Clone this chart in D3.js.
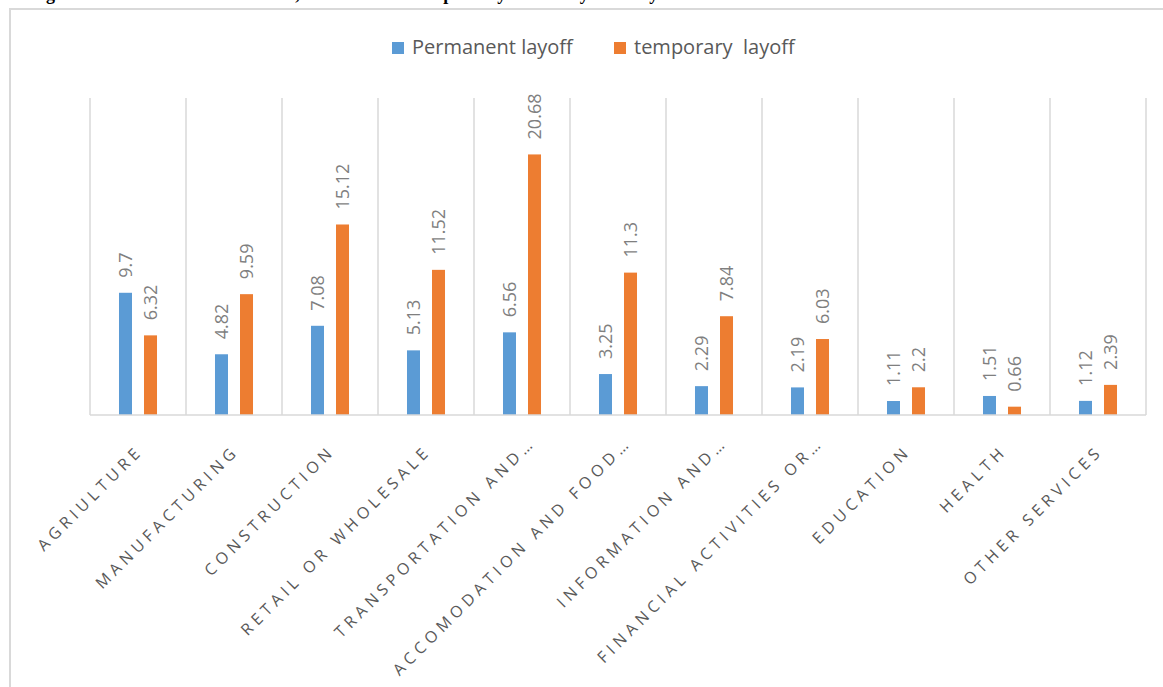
<!DOCTYPE html>
<html lang="en">
<head>
    <meta charset="UTF-8">
    <title>Permanent and temporary layoffs by industry</title>
    <script src="https://d3js.org/d3.v7.min.js"></script>
    <style>
        body { margin: 0; background: #fff; }
        text { font-family: "Open Sans", sans-serif; }
    </style>
</head>
<body>
    <div id="chart"></div>

    <script>
        const width = 1163;
        const height = 687;

        // Data
        const categories = [
            "AGRIULTURE", "MANUFACTURING", "CONSTRUCTION", "RETAIL OR WHOLESALE",
            "TRANSPORTATION AND…", "ACCOMODATION AND FOOD…", "INFORMATION AND…",
            "FINANCIAL ACTIVITIES OR…", "EDUCATION", "HEALTH", "OTHER SERVICES"
        ];
        const seriesNames = ["Permanent layoff", "temporary  layoff"];
        const permanent = [9.7, 4.82, 7.08, 5.13, 6.56, 3.25, 2.29, 2.19, 1.11, 1.51, 1.12];
        const temporary = [6.32, 9.59, 15.12, 11.52, 20.68, 11.3, 7.84, 6.03, 2.2, 0.66, 2.39];
        const colors = ["#5B9BD5", "#ED7D31"];

        const svg = d3.select("#chart")
            .append("svg")
            .attr("width", width)
            .attr("height", height);

        // caption of the page above the chart, only its bottom edge shows
        svg.append("text")
            .attr("x", 30)
            .attr("y", -0.5)
            .style("font-family", "'Liberation Serif', serif")
            .style("font-weight", "bold")
            .style("font-size", "18px")
            .attr("fill", "#000")
            .text("Figure 6: Share of workers laid off, distributed as temporarily laid off by industry");

        // chart frame
        svg.append("rect")
            .attr("x", 10)
            .attr("y", 9)
            .attr("width", width + 20)
            .attr("height", height + 20)
            .attr("fill", "#fff")
            .attr("stroke", "#d9d9d9")
            .attr("stroke-width", 2);

        const plotLeft = 90, plotRight = 1146, plotTop = 100, plotBottom = 415;

        const x0 = d3.scaleBand()
            .domain(categories)
            .range([plotLeft, plotRight]);

        const bw = x0.bandwidth();
        const x1 = d3.scaleBand()
            .domain(seriesNames)
            .range([bw * 0.302, bw * 0.698])
            .paddingInner(0.48);

        const y = d3.scaleLinear()
            .domain([0, 25])
            .range([plotBottom, plotTop]);

        // vertical category separators
        const bounds = categories.map(c => x0(c)).concat([plotRight]);
        svg.append("g")
            .selectAll("line")
            .data(bounds)
            .enter().append("line")
            .attr("x1", d => d)
            .attr("x2", d => d)
            .attr("y1", y(25) - 2)
            .attr("y2", plotBottom)
            .attr("stroke", "#d9d9d9")
            .attr("stroke-width", 1.5);

        const rows = categories.map((c, i) => ({
            cat: c,
            vals: [
                { s: seriesNames[0], v: permanent[i], c: colors[0] },
                { s: seriesNames[1], v: temporary[i], c: colors[1] }
            ]
        }));

        const groups = svg.append("g")
            .selectAll("g")
            .data(rows)
            .enter().append("g")
            .attr("transform", d => `translate(${x0(d.cat)},0)`);

        groups.selectAll("rect")
            .data(d => d.vals)
            .enter().append("rect")
            .attr("x", d => x1(d.s))
            .attr("width", x1.bandwidth())
            .attr("y", d => y(d.v))
            .attr("height", d => y(0) - y(d.v))
            .attr("fill", d => d.c);

        // value labels, rotated
        groups.selectAll("text")
            .data(d => d.vals)
            .enter().append("text")
            .attr("transform", d => `translate(${x1(d.s) + x1.bandwidth() / 2},${y(d.v) - 15}) rotate(-90)`)
            .attr("dy", "0.36em")
            .attr("text-anchor", "start")
            .attr("fill", "#7f7f7f")
            .style("font-size", "18px")
            .text(d => d.v);

        // x axis baseline + rotated category labels
        const xAxis = d3.axisBottom(x0).tickSize(0).tickPadding(0);
        const axisG = svg.append("g")
            .attr("transform", `translate(0,${plotBottom})`)
            .call(xAxis);
        axisG.select(".domain")
            .attr("stroke", "#d9d9d9")
            .attr("stroke-width", 1.5)
            .attr("d", `M${plotLeft},0H${plotRight}`);
        axisG.selectAll(".tick text")
            .attr("text-anchor", "end")
            .attr("y", 0)
            .attr("dy", 0)
            .attr("transform", d => {
                const shift = d.endsWith("…") ? 12 : 0;
                return `translate(6,37) rotate(-45) translate(${shift},0)`;
            })
            .attr("fill", "#595959")
            .style("font-family", "'Open Sans', sans-serif")
            .style("font-size", "16px")
            .style("letter-spacing", "4.6px");

        // legend
        const legend = svg.append("g")
            .selectAll("g")
            .data(seriesNames)
            .enter().append("g")
            .attr("transform", (d, i) => `translate(${i === 0 ? 392 : 614},42)`);

        legend.append("rect")
            .attr("width", 12)
            .attr("height", 12)
            .attr("fill", (d, i) => colors[i]);

        legend.append("text")
            .attr("x", 20)
            .attr("y", 12)
            .attr("fill", "#595959")
            .style("font-size", "20px")
            .style("white-space", "pre")
            .text(d => d);
    </script>
</body>
</html>
